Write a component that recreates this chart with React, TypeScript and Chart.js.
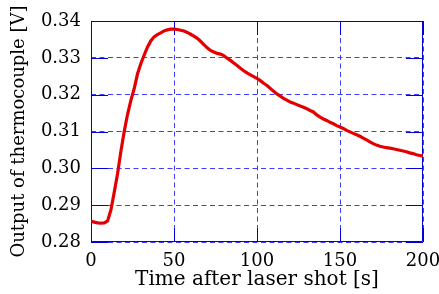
import React, { useEffect, useRef } from "react";
import { Chart, registerables } from "chart.js";

Chart.register(...registerables);

const times: number[] = [
  0, 2, 4, 6, 8, 10, 12, 14, 16, 18, 20, 22, 24, 26, 28, 30, 32, 34, 36, 38,
  40, 42, 44, 46, 48, 50, 52, 54, 56, 58, 60, 62, 64, 66, 68, 70, 72, 74, 76, 78,
  80, 82, 84, 86, 88, 90, 92, 94, 96, 98, 100, 102, 104, 106, 108, 110, 112, 114, 116, 118,
  120, 122, 124, 126, 128, 130, 132, 134, 136, 138, 140, 142, 144, 146, 148, 150, 152, 154, 156, 158,
  160, 162, 164, 166, 168, 170, 172, 174, 176, 178, 180, 182, 184, 186, 188, 190, 192, 194, 196, 198, 200,
];

const voltages: number[] = [
  0.2856, 0.2854, 0.2852, 0.2851, 0.2852, 0.2857, 0.2887, 0.2935, 0.2985, 0.3046,
  0.3100, 0.3146, 0.3184, 0.3216, 0.3256, 0.3284, 0.3307, 0.3329, 0.3346, 0.3357,
  0.3363, 0.3368, 0.3373, 0.3376, 0.3378, 0.3378, 0.3377, 0.3375, 0.3373, 0.3369,
  0.3364, 0.3359, 0.3353, 0.3345, 0.3336, 0.3327, 0.3320, 0.3316, 0.3312, 0.3310,
  0.3306, 0.3299, 0.3293, 0.3286, 0.3279, 0.3272, 0.3265, 0.3259, 0.3254, 0.3249,
  0.3244, 0.3238, 0.3231, 0.3225, 0.3217, 0.3209, 0.3202, 0.3196, 0.3190, 0.3185,
  0.3180, 0.3177, 0.3173, 0.3169, 0.3166, 0.3162, 0.3157, 0.3153, 0.3145, 0.3139,
  0.3134, 0.3130, 0.3125, 0.3121, 0.3116, 0.3112, 0.3108, 0.3103, 0.3099, 0.3095,
  0.3091, 0.3087, 0.3082, 0.3077, 0.3072, 0.3067, 0.3063, 0.3060, 0.3058, 0.3056,
  0.3055, 0.3053, 0.3051, 0.3049, 0.3047, 0.3045, 0.3042, 0.3040, 0.3037, 0.3035, 0.3033,
];

const xTitle = "Time after laser shot [s]";
const yTitle = "Output of thermocouple [V]";

const FONT = "'DejaVu Serif', serif";
const AXIS_BLUE = "#0000dd";
const GRID_BLUE = "#3c3cff";

const frameTicks = {
  id: "frameTicks",
  beforeDatasetsDraw(chart: any) {
    const { ctx, chartArea } = chart;
    const { left, right, top, bottom } = chartArea;
    const xs = chart.scales.x;
    const ys = chart.scales.y;
    ctx.save();
    ctx.strokeStyle = AXIS_BLUE;
    ctx.lineWidth = 1;
    ctx.setLineDash([]);
    ctx.beginPath();
    ctx.rect(left + 0.5, top + 0.5, right - left - 1, bottom - top - 1);
    ctx.stroke();
    const xLen = 14;
    const yLen = 17;
    ctx.beginPath();
    xs.ticks.forEach((t: any) => {
      const p = Math.round(xs.getPixelForValue(t.value)) + 0.5;
      ctx.moveTo(p, bottom);
      ctx.lineTo(p, bottom - xLen);
      ctx.moveTo(p, top);
      ctx.lineTo(p, top + xLen);
    });
    ys.ticks.forEach((t: any) => {
      const p = Math.round(ys.getPixelForValue(t.value)) + 0.5;
      ctx.moveTo(left, p);
      ctx.lineTo(left + yLen, p);
      ctx.moveTo(right, p);
      ctx.lineTo(right - yLen, p);
    });
    ctx.stroke();
    ctx.restore();
  },
};

export default function App() {
  const ref = useRef<HTMLCanvasElement | null>(null);

  useEffect(() => {
    if (!ref.current) return;
    const points = times.map((t, i) => ({ x: t, y: voltages[i] }));
    const chart = new Chart(ref.current, {
      type: "line",
      data: {
        datasets: [
          {
            data: points,
            borderColor: "rgb(228,0,0)",
            borderWidth: 3.2,
            pointRadius: 0,
            tension: 0,
            fill: false,
          },
        ],
      },
      options: {
        responsive: false,
        animation: false,
        layout: { padding: { top: 21, right: 16, left: 0, bottom: 0 } },
        plugins: { legend: { display: false }, tooltip: { enabled: false } },
        scales: {
          x: {
            type: "linear",
            min: 0,
            max: 200,
            afterFit: (s: any) => {
              s.height = 52;
              s.paddingLeft = 0;
              s.paddingRight = 0;
            },
            ticks: {
              stepSize: 50,
              color: "#000",
              font: { family: FONT, size: 18 },
              padding: 9,
              maxRotation: 0,
            },
            grid: { color: GRID_BLUE, lineWidth: 1, drawTicks: false },
            border: { display: false, dash: [5, 3.5] },
            title: {
              display: true,
              text: xTitle,
              color: "#000",
              font: { family: FONT, size: 20 },
              padding: { top: 0, bottom: 2 },
            },
          },
          y: {
            type: "linear",
            min: 0.28,
            max: 0.34,
            afterFit: (s: any) => {
              s.width = 91;
              s.paddingTop = 0;
              s.paddingBottom = 0;
            },
            ticks: {
              stepSize: 0.01,
              color: "#000",
              font: { family: FONT, size: 18 },
              padding: 10,
              callback: (v: any) => Number(v).toFixed(2),
            },
            grid: { color: GRID_BLUE, lineWidth: 1, drawTicks: false },
            border: { display: false, dash: [5, 3.5] },
            title: {
              display: true,
              text: yTitle,
              color: "#000",
              font: { family: FONT, size: 18 },
              padding: { top: 9, bottom: 0 },
            },
          },
        },
      },
      plugins: [frameTicks],
    });
    return () => chart.destroy();
  }, []);

  return (
    <div style={{ position: "fixed", left: 0, top: 0, width: 439, height: 294, background: "#fff" }}>
      <canvas ref={ref} width={439} height={294} style={{ display: "block" }} />
    </div>
  );
}
